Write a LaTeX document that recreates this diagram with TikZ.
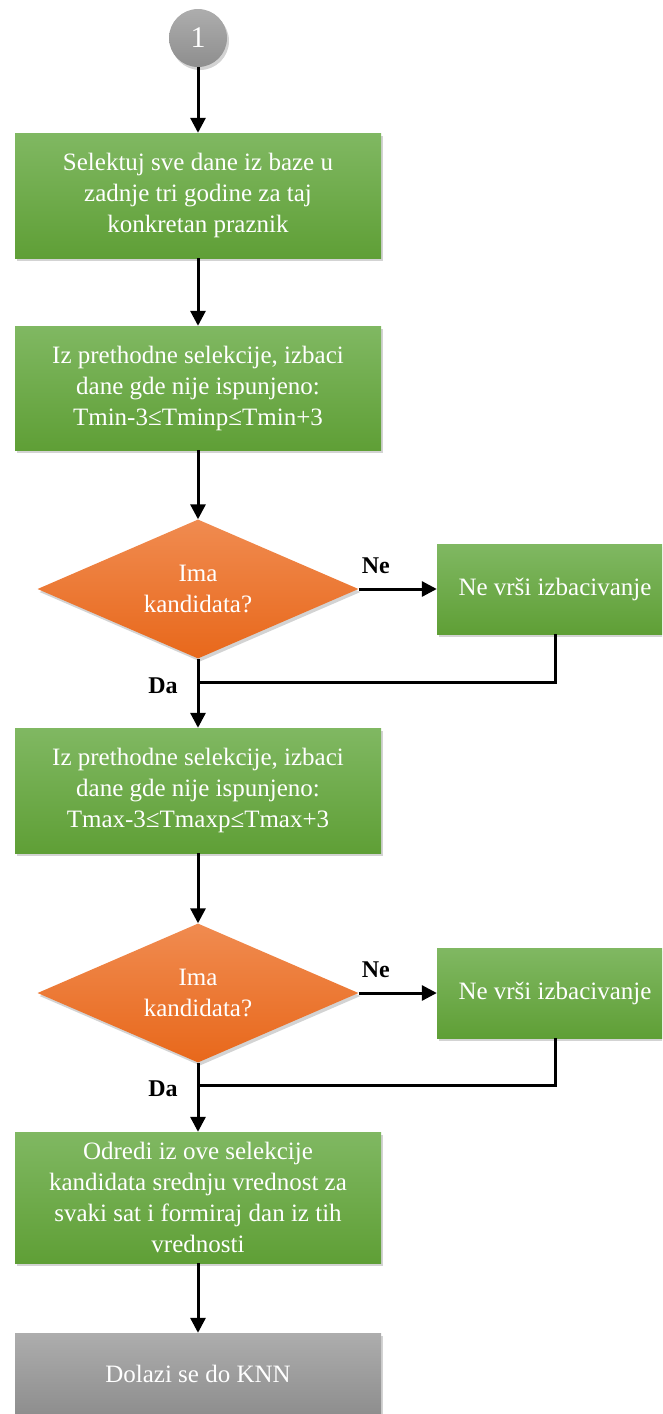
\documentclass[tikz,border=0pt]{standalone}
\usepackage{fontspec}
\setmainfont{Liberation Serif}
\usepackage{tikz}
\usetikzlibrary{shapes.geometric,arrows.meta,shadows}
\definecolor{greentop}{HTML}{80B862}
\definecolor{greenbot}{HTML}{5F9F36}
\definecolor{orangetop}{HTML}{F08B50}
\definecolor{orangebot}{HTML}{E8681B}
\definecolor{graytop}{HTML}{ADADAD}
\definecolor{graybot}{HTML}{8E8E8E}
\tikzset{
  sh/.style = {drop shadow={shadow xshift=2pt, shadow yshift=-3pt, opacity=0.35}},
  stepbox/.style = {rectangle, sh, top color=greentop, bottom color=greenbot, text=white,
    minimum width=366pt, inner sep=0pt, align=center, font=\fontsize{25}{31}\selectfont},
  skipbox/.style = {stepbox, minimum width=236pt, minimum height=90pt},
  endbox/.style = {stepbox, top color=graytop, bottom color=graybot},
  decision/.style = {diamond, aspect=2.3, sh, top color=orangetop, bottom color=orangebot, text=white,
    minimum width=321pt, minimum height=139pt, inner sep=0pt, align=center,
    font=\fontsize{25}{31}\selectfont},
  startnode/.style = {circle, sh, top color=graytop, bottom color=graybot, text=white,
    minimum size=58pt, inner sep=0pt, font=\fontsize{30}{34}\selectfont},
  arr/.style = {line width=3pt, -{Triangle[length=15pt,width=15pt]}},
  ln/.style = {line width=3pt},
  lbl/.style = {font=\fontsize{24}{28}\selectfont\bfseries}
}

\begin{document}
\begin{tikzpicture}[x=1pt,y=-1pt]
\useasboundingbox (0,0) rectangle (662,1414);
\begin{scope}
\clip (0,0) rectangle (662,1414);
\node[startnode] (start) at (198,38) {1};
\node[stepbox, minimum height=125pt] (sel) at (198,195.5) {Selektuj sve dane iz baze u\\zadnje tri godine za taj\\konkretan praznik};
\node[stepbox, minimum height=124pt] (tmin) at (198,388) {Iz prethodne selekcije, izbaci\\dane gde nije ispunjeno:\\Tmin-3≤Tminp≤Tmin+3};
\node[decision] (dec1) at (198,589) {Ima\\kandidata?};
\node[skipbox] (skip1) at (555,589) {Ne vrši izbacivanje};
\coordinate (join1) at (198,682);
\node[stepbox, minimum height=125pt] (tmax) at (198,790.5) {Iz prethodne selekcije, izbaci\\dane gde nije ispunjeno:\\Tmax-3≤Tmaxp≤Tmax+3};
\node[decision] (dec2) at (198,993) {Ima\\kandidata?};
\node[skipbox] (skip2) at (555,993) {Ne vrši izbacivanje};
\coordinate (join2) at (198,1085);
\node[stepbox, minimum height=131pt] (avg) at (198,1197.5) {Odredi iz ove selekcije\\kandidata srednju vrednost za\\svaki sat i formiraj dan iz tih\\vrednosti};
\node[endbox, minimum height=81pt] (knn) at (198,1373.5) {Dolazi se do KNN};

\draw[arr] (start) -- (sel);
\draw[arr] (sel) -- (tmin);
\draw[arr] (tmin) -- (dec1);
\draw[arr] (dec1) -- node[lbl, above=10pt, pos=0.22] (ne1) {Ne} (skip1);
\draw[ln] (skip1.south) |- (join1);
\draw[arr] (dec1) -- (tmax);
\node[lbl] (da1) at (163,686) {Da};
\draw[arr] (tmax) -- (dec2);
\draw[arr] (dec2) -- node[lbl, above=10pt, pos=0.22] (ne2) {Ne} (skip2);
\draw[ln] (skip2.south) |- (join2);
\draw[arr] (dec2) -- (avg);
\node[lbl] (da2) at (163,1089) {Da};
\draw[arr] (avg) -- (knn);
\end{scope}
\end{tikzpicture}
\end{document}
